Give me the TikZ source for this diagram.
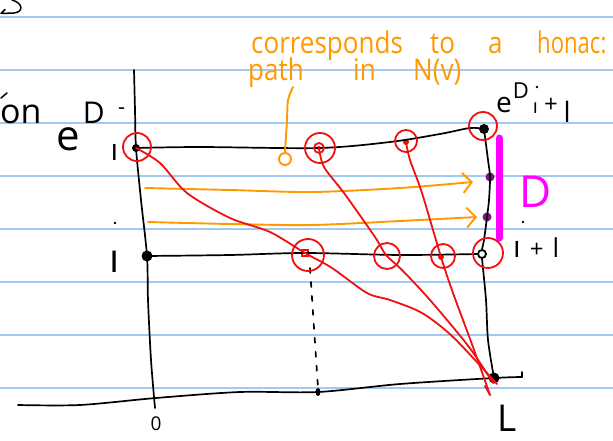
\documentclass[tikz,border=0pt]{standalone}
\usepackage{fontspec}
\setmainfont{Open Sans}
\usetikzlibrary{arrows.meta,shapes.geometric}
\definecolor{rulecol}{RGB}{160,202,242}
\definecolor{penred}{RGB}{240,16,16}
\definecolor{penorange}{RGB}{255,153,0}
\definecolor{penmag}{RGB}{255,0,255}
\definecolor{penpurple}{RGB}{122,22,122}
\newcommand\fsz[1]{\fontsize{#1}{#1}\selectfont}
\newcommand\tallw[1]{\scalebox{1}[1.15]{#1}}
\begin{document}
\begin{tikzpicture}[x=1pt,y=-1pt,
  ink/.style={draw=black,line width=1.7pt,line cap=round,line join=round},
  redink/.style={draw=penred,line width=1.8pt,line cap=round,line join=round},
  orink/.style={draw=penorange,line width=1.9pt,line cap=round,line join=round},
  blackdot/.style={circle,fill=black,inner sep=0pt,minimum size=#1},
  purpledot/.style={circle,fill=penpurple,inner sep=0pt,minimum size=#1},
  ring/.style={circle,draw=penred,line width=1.8pt,inner sep=0pt,minimum size=#1},
  otext/.style={text=penorange,inner sep=0pt,anchor=base west,font=\fsz{26}},
  btext/.style={text=black,inner sep=0pt,anchor=base west},
  ruleline/.style={draw=rulecol,line width=1.6pt}]
\useasboundingbox (0,0) rectangle (613,441);
\fill[white] (0,0) rectangle (613,441);
% notebook rules
\foreach \yy in {17,70,123,176,229,282,335,388}
  \draw[ruleline] (0,\yy) -- (613,\yy);

% points
\node[blackdot=8pt] (tl) at (136,148) {};
\node[circle,fill=penred,inner sep=0pt,minimum size=4pt] (p1) at (319,148) {};
\node[circle,fill=penred,inner sep=0pt,minimum size=6pt] (p2) at (406,142) {};
\node[blackdot=10pt] (tr) at (484,129) {};
\node[blackdot=11pt] (ml) at (147,256) {};
\node[draw=penred,line width=1.6pt,inner sep=0pt,minimum size=6pt] (m1) at (305,253) {};
\coordinate (m2) at (386,255);
\node[circle,fill=penred,inner sep=0pt,minimum size=6pt] (m3) at (441,257) {};
\node[circle,draw=black,line width=1.8pt,inner sep=0pt,minimum size=8pt] (mr) at (482,254) {};
\node[purpledot=9pt] (q1) at (490,177) {};
\node[purpledot=9pt] (q2) at (487,217) {};
\node[blackdot=11pt] (br) at (494,378) {};
\node[ellipse,fill=black,inner sep=0pt,minimum width=5pt,minimum height=8pt] (bm) at (318,392) {};

% black lines
\draw[ink] plot[smooth] coordinates {(134,70) (135,110) (tl.center) (141,200) (ml.center) (148,300) (151,360) (155,408)};
\draw[ink] plot[smooth] coordinates {(tl.center) (200,147) (p1.center) (390,142) (440,134) (470,128) (tr.center)};
\draw[ink] plot[smooth] coordinates {(ml.center) (230,255) (m1.center) (400,255) (mr.west)};
\draw[ink] plot[smooth] coordinates {(tr.center) (488,160) (q1.center) (489,200) (q2.center) (484,240) (mr.north)};
\draw[ink] plot[smooth] coordinates {(mr.south) (486,300) (488,340) (br.center)};
\draw[ink] plot[smooth] coordinates {(18,405) (80,405) (156,398) (240,392) (bm.center) (400,384) (br.center) (522,377)};
\draw[ink] (522,377) -- (522,372);
\draw[ink,dash pattern=on 5pt off 9pt] (310,268) -- (bm.north);
% hook arrow top left
\draw[ink,line width=1.5pt] (12,0) .. controls (23,3) and (24,12) .. (14,13) -- (1,13.5) -- (5,9.5);
\draw[ink,line width=1.5pt] (1,98) -- (7,93);

% magenta strip
\draw[draw=penmag,line width=7pt,line cap=round] (499,138) -- (499,238);

% orange arrows and pointer
\coordinate (a1s) at (145,188);
\coordinate (a2s) at (148,222);
\draw[orink,-{Straight Barb[length=9pt,width=20pt,line width=1.9pt]}] plot[smooth] coordinates {(a1s) (230,190) (312,192) (400,188) (473,182)};
\draw[orink,-{Straight Barb[length=9pt,width=20pt,line width=1.9pt]}] plot[smooth] coordinates {(a2s) (230,224) (312,225) (400,221) (477,217)};
\coordinate (ptop) at (293,87);
\node[circle,draw=penorange,line width=1.9pt,inner sep=0pt,minimum size=12pt] (ptr) at (285,159) {};
\draw[orink] plot[smooth] coordinates {(ptop) (288,100) (287,120) (ptr.north)};

% red circles
\node[ring=28pt] (rtl) at (137,147) {};
\node[ring=30pt] (rp1) at (320,148) {};
\node[ring=10pt] (rp1i) at (319,148) {};
\node[ring=22pt] (rp2) at (406,141) {};
\node[ring=28pt] (rtr) at (483,126) {};
\node[ring=32pt] (rm1) at (308,255) {};
\node[ring=26pt] (rm2) at (387,256) {};
\node[ring=24pt] (rm3) at (443,256) {};
\node[ring=30pt] (rmr) at (488,253) {};

% red paths
\draw[redink] plot[smooth] coordinates {(tl.center) (160,163) (187,193) (230,218) (270,232) (m1.center) (332,268) (367,293) (390,300) (422,313) (453,337) (497,384)};
\draw[redink] plot[smooth] coordinates {(p1.center) (324,167) (344,193) (375,237) (m2) (402,270) (430,300) (469,347) (493,383)};
\draw[redink] plot[smooth] coordinates {(p2.center) (410,160) (422,193) (m3.center) (453,293) (473,347) (490,395)};
\draw[redink] (490,395) -- (485,386);

% texts
\node[otext] (w1) at (251,54) {\tallw{corresponds}};
\node[otext] (w2) at (430,54) {\tallw{to}};
\node[otext] (w3) at (488,54) {\tallw{a}};
\node[otext] (w4) at (537,54) {\scalebox{0.85}[1.15]{honac:}};
\node[otext] (w5) at (248,81) {\tallw{path}};
\node[otext] (w6) at (353,81) {\tallw{in}};
\node[otext] (w7) at (413,81) {\tallw{N(v)}};

\node[btext,font=\fsz{34}] (on) at (0,124) {on};
\node[btext] (eL) at (56,150) {\fsz{42}e\hspace{3pt}\raisebox{27pt}{\fsz{30}D}\hspace{6pt}\raisebox{-10pt}{\fsz{30}ı}\raisebox{36pt}{\fsz{22}-}};
\node[btext] (eR) at (496,113) {\fsz{28}e\hspace{1pt}\raisebox{14pt}{\fsz{22}D}\hspace{4pt}\raisebox{-1pt}{\fsz{20}ı}\hspace{6pt}{\fsz{24}+}\hspace{6pt}\raisebox{-10pt}{\fsz{28}l}};
\fill (537,87) circle (1.4pt);
\node[btext] (ipl) at (513,257) {\fsz{30}ı\hspace{9pt}{\fsz{24}+}\hspace{9pt}{\fsz{26}l}};
\fill (523,222) circle (1.4pt);
\node[btext,font=\fsz{40}] (iL) at (109,272) {ı};
\fill (115,223) circle (1.4pt);
\node[btext,font=\fsz{19},anchor=base] (zero) at (156,430) {0};
\node[btext,font=\fsz{37}] (Lbl) at (497,431) {L};
\node[btext,font=\fsz{44},text=penmag] (Dlbl) at (519,207) {D};
\end{tikzpicture}
\end{document}
